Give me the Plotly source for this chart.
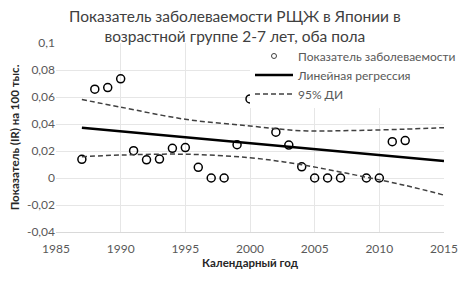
import plotly.graph_objects as go

# Observed incidence (IR per 100 thousand)
years = [1987, 1988, 1989, 1990, 1991, 1992, 1993, 1994, 1995, 1996, 1997, 1998,
         1999, 2000, 2002, 2003, 2004, 2005, 2006, 2007, 2009, 2010, 2011, 2012]
rates = [0.0138, 0.0658, 0.0670, 0.0735, 0.0202, 0.0135, 0.0140, 0.0220, 0.0225, 0.0079,
         0.0, 0.0, 0.0247, 0.0586, 0.0339, 0.0244, 0.0083, 0.0, 0.0, 0.0, 0.0, 0.0, 0.0269, 0.0277]

# Linear regression line
reg_years = [1987, 2015]
reg_vals = [0.0373, 0.0125]

# 95% confidence interval
ci_years = [1987, 1990, 1995, 2000, 2004, 2008, 2012, 2015]
ci_upper = [0.0581, 0.0525, 0.0435, 0.0385, 0.0350, 0.0352, 0.0362, 0.0373]
ci_lower = [0.0158, 0.0170, 0.0176, 0.0150, 0.0098, 0.0025, -0.0055, -0.0127]

x_ticks = [1985, 1990, 1995, 2000, 2005, 2010, 2015]
y_ticks = [-0.04, -0.02, 0, 0.02, 0.04, 0.06, 0.08, 0.1]
y_tick_text = ["-0,04", "-0,02", "0", "0,02", "0,04", "0,06", "0,08", "0,1"]

FONT = "Lato, 'Open Sans', sans-serif"
DASH = "5px,3px"

fig = go.Figure()
fig.add_trace(go.Scatter(
    x=years, y=rates, mode="markers", name="Показатель заболеваемости", showlegend=False,
    marker=dict(symbol="circle-open", size=8, color="black", line=dict(width=1.5, color="black")),
))
# legend entry with a small marker, as in the reference legend
fig.add_trace(go.Scatter(
    x=[None], y=[None], mode="markers", name="Показатель заболеваемости",
    marker=dict(symbol="circle-open", size=5, color="#404040", line=dict(width=1, color="#404040")),
))
fig.add_trace(go.Scatter(
    x=reg_years, y=reg_vals, mode="lines", name="Линейная регрессия",
    line=dict(color="black", width=2.5),
))
fig.add_trace(go.Scatter(
    x=ci_years, y=ci_upper, mode="lines", name="95% ДИ",
    line=dict(color="#404040", width=1.5, dash=DASH, shape="spline"),
))
fig.add_trace(go.Scatter(
    x=ci_years, y=ci_lower, mode="lines", name="95% ДИ", showlegend=False,
    line=dict(color="#404040", width=1.5, dash=DASH, shape="spline"),
))

# page body has an 8px default margin, so the figure is 8px smaller in each direction
fig.update_layout(
    width=463, height=279,
    margin=dict(l=48, r=27, t=35, b=55, autoexpand=False),
    paper_bgcolor="white", plot_bgcolor="white",
    font=dict(family=FONT, color="#595959", size=11),
    title=dict(
        text="Показатель заболеваемости РЩЖ в Японии в<br>возрастной группе 2-7 лет, оба пола",
        x=0.49, xanchor="center", yref="container", y=0.949, yanchor="middle",
        font=dict(family=FONT, size=15.5, color="#404040"),
    ),
    showlegend=True,
    legend=dict(
        x=0.5, y=1.008, xanchor="left", yanchor="top",
        bgcolor="white", borderwidth=0,
        font=dict(family=FONT, size=12, color="#595959"),
        tracegroupgap=0, itemwidth=38,
    ),
    xaxis=dict(
        range=[1985, 2015], tickvals=x_ticks,
        showgrid=True, gridcolor="#e6e6e6", gridwidth=1,
        showline=True, linecolor="#d9d9d9", zeroline=False,
        ticks="", ticklabelstandoff=6, tickfont=dict(size=12, color="#595959"),
        title=dict(text="<b>Календарный год</b>", font=dict(size=11.5, color="#262626"), standoff=3),
    ),
    yaxis=dict(
        range=[-0.04, 0.1], tickvals=y_ticks, ticktext=y_tick_text,
        showgrid=True, gridcolor="#e6e6e6", gridwidth=1,
        showline=False, zeroline=False,
        ticks="", tickfont=dict(size=12, color="#595959"),
        title=dict(text="<b>Показатель (IR) на 100 тыс.</b>", font=dict(size=11.5, color="#262626"), standoff=6),
    ),
)

fig.write_html("out.html")
